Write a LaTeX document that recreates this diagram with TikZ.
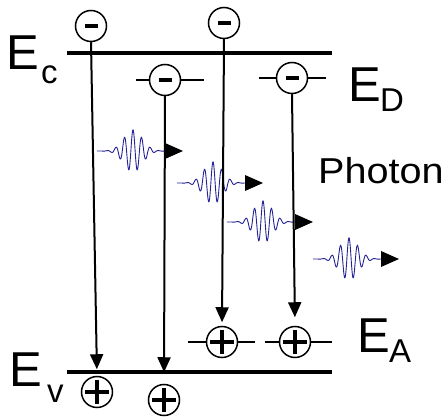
\documentclass[tikz,border=0pt]{standalone}
\usepackage{fontspec}
\setmainfont{Liberation Sans}
\usetikzlibrary{arrows.meta}
\definecolor{wavecol}{RGB}{35,35,150}
\begin{document}
\begin{tikzpicture}[x=1pt,y=-1pt,
  level/.style={line width=4pt},
  sublevel/.style={line width=1.5pt},
  carrier/.style={circle,draw,line width=1.5pt,fill=white,minimum size=31pt,inner sep=0pt},
  electron/.style={carrier,path picture={
    \fill[black] ([shift={(-6.5pt,-2.2pt)}]path picture bounding box.center) rectangle ([shift={(6.5pt,2.2pt)}]path picture bounding box.center);}},
  hole/.style={carrier,path picture={
    \fill[black] ([shift={(-12pt,-2.4pt)}]path picture bounding box.center) rectangle ([shift={(12pt,2.4pt)}]path picture bounding box.center);
    \fill[black] ([shift={(-2.4pt,-12pt)}]path picture bounding box.center) rectangle ([shift={(2.4pt,12pt)}]path picture bounding box.center);}},
  trans/.style={line width=2pt,-{Triangle[length=15pt,width=13pt]}},
  biglbl/.style={font=\fontsize{49}{49}\selectfont,inner sep=0pt,anchor=base west},
  sublbl/.style={font=\fontsize{33}{33}\selectfont,inner sep=0pt,anchor=base west},
  photon/.pic={
    \draw[wavecol,line width=0.9pt] plot[domain=-36:32,samples=220,smooth]
      ({\x+36},{-21*exp(-(\x/13)^2)*cos(42*\x)});
    \fill (68,-8) -- (86,0) -- (68,8) -- cycle;
  }
]
\useasboundingbox[fill=white] (0,0) rectangle (448,419);

% band edges
\coordinate (ecL) at (67,53); \coordinate (ecR) at (332,53);
\coordinate (evL) at (67,372); \coordinate (evR) at (332,372);
\draw[level] (ecL) -- (ecR);
\draw[level] (evL) -- (evR);

% donor / acceptor level stubs
\coordinate (d2L) at (136,80); \coordinate (d2R) at (204,80);
\coordinate (d4L) at (259,78); \coordinate (d4R) at (326,78);
\coordinate (a3L) at (188,342); \coordinate (a3R) at (255,342);
\coordinate (a4L) at (265,342); \coordinate (a4R) at (332,342);
\draw[sublevel] (d2L) -- (d2R);
\draw[sublevel] (d4L) -- (d4R);
\draw[sublevel] (a3L) -- (a3R);
\draw[sublevel] (a4L) -- (a4R);

% photons
\pic at (97,151) {photon};
\pic at (177,183) {photon};
\pic at (227,222) {photon};
\pic at (313,259) {photon};

% carriers
\node[electron] (e1) at (91,26) {};
\node[electron] (e2) at (165,80) {};
\node[electron] (e3) at (224,23) {};
\node[electron] (e4) at (292,78) {};
\node[hole] (h1) at (97,392) {};
\node[hole] (h2) at (164,400) {};
\node[hole] (h3) at (222,342) {};
\node[hole] (h4) at (295,342) {};

% transitions
\draw[trans,shorten >=6.5pt] (e1.south) -- (h1.north);
\draw[trans,shorten >=11.5pt] (e2.south) -- (h2.north);
\draw[trans,shorten >=3.5pt] (e3.south) -- (h3.north);
\draw[trans,shorten >=8.5pt] (e4.south) -- (h4.north);

% labels
\node[biglbl] (ecE) at (6,70) {E};
\node[sublbl] (ecS) at (41,84) {c};
\node[biglbl] (edE) at (348,102) {E};
\node[sublbl] (edS) at (380,112) {D};
\node[biglbl] (eaE) at (357,353) {E};
\node[sublbl] (eaS) at (389,363) {A};
\node[biglbl] (evE) at (9,387) {E};
\node[sublbl] (evS) at (47,403) {v};
\node[font=\fontsize{36}{36}\selectfont,inner sep=0pt,anchor=base west,xscale=1.1] (ph) at (318,184) {Photon};
\end{tikzpicture}
\end{document}
